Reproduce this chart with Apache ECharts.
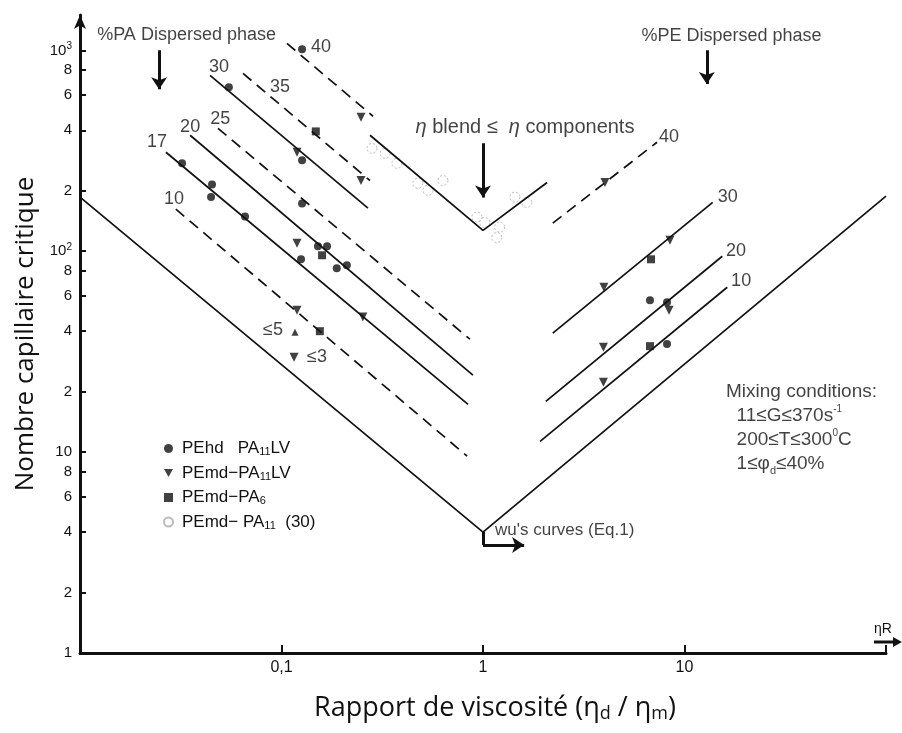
<!DOCTYPE html>
<html>
<head>
<meta charset="utf-8">
<script src="https://cdn.jsdelivr.net/npm/echarts@6/dist/echarts.min.js"></script>
<style>
html, body { margin: 0; padding: 0; background: #fff; }
#chart { width: 902px; height: 733px; }
</style>
</head>
<body>
<div id="chart"></div>
<script>
// Wu's master curve and the "blend viscosity" V
const wuCurve = [[0.01, 186], [1, 4], [100, 188]];
const blendCurve = [[0.275, 378], [1, 127], [2.08, 220]];

// straight iso-composition lines, [[x0, y0], [x1, y1]]
const solidLines = [
  [[0.0442, 751], [0.2685, 164]],   // PA 30
  [[0.0352, 378], [0.891, 24.2]],   // PA 20
  [[0.0267, 311], [0.843, 17.3]],   // PA 17
  [[2.22, 39.1], [13.8, 175]],      // PE 30
  [[2.05, 17.9], [15.4, 94.4]],     // PE 20
  [[1.92, 11.3], [16.3, 66.2]]      // PE 10
];
const dashedLines = [
  [[0.1064, 1083], [0.2845, 470]],  // PA 40
  [[0.0644, 768], [0.2748, 225]],   // PA 35
  [[0.0484, 409], [0.861, 36.5]],   // PA 25
  [[0.0299, 162], [0.834, 9.55]],   // PA 10
  [[2.22, 138], [7.31, 349]]        // PE 40
];

// measured points
const pehdPA11LV = [[0.1265, 1012], [0.0548, 655], [0.1265, 284], [0.0321, 274], [0.0452, 215],
  [0.0447, 186], [0.0659, 149], [0.1265, 173], [0.1517, 106], [0.1683, 106], [0.125, 91.2],
  [0.188, 82.3], [0.211, 85.2], [6.74, 57.0], [8.19, 55.8], [8.19, 34.5]];
const pemdPA11LV = [[0.248, 464], [0.1194, 311], [0.248, 225], [0.1194, 109.6], [0.1194, 50.9],
  [0.2535, 47], [0.1154, 29.7], [4.03, 220], [3.98, 66.2], [8.47, 113.5], [3.96, 33.3],
  [8.38, 50.9], [3.96, 22.3]];
const pemdPA11LVup = [[0.1167, 39.5]];
const pemdPA6 = [[0.148, 395], [0.159, 95.5], [0.155, 40.0], [6.82, 91.2], [6.74, 33.7]];
const pemdPA11 = [[0.281, 325], [0.327, 307], [0.374, 274], [0.475, 218], [0.533, 201], [0.633, 225],
  [0.933, 148], [1.02, 139], [1.21, 132], [1.17, 117], [1.44, 186], [1.65, 175]];

// composition tags on the lines
const tagText = ['40', '35', '30', '25', '20', '17', '10', '≤5', '≤3', '40', '30', '20', '10'];
const tagX = [0.157, 0.0984, 0.049, 0.0496, 0.0352, 0.0241, 0.0293, 0.0908, 0.150, 8.38, 16.4, 18.0, 19.1];
const tagY = [1035, 655, 823, 454, 414, 349, 181, 40.5, 29.7, 369, 186, 100, 71];

// axis ticks
const yTicks = [1, 2, 4, 6, 8, 10, 20, 40, 60, 80, 100, 200, 400, 600, 800, 1000];
const xTicks = [0.1, 1, 10, 100];
const xLabels = [0.1, 1, 10];

// arrows drawn in data space
const arrows = [
  [[0.0247, 1000], [0.0247, 640]],
  [[12.9, 1000], [12.9, 680]],
  [[1, 345], [1, 185]],
  [[1, 3.45], [1.6, 3.45]]
];
const stubs = [
  [[1, 4], [1, 3.45]]
];

const FONT = 'Liberation Sans';
const TITLE_FONT = 'Open Sans';
const INK = '#111';

const rich = {
  i: { fontFamily: FONT, fontStyle: 'italic', fontSize: 20, color: INK },
  s: { fontFamily: FONT, fontSize: 11, color: INK, verticalAlign: 'bottom', padding: [7, 0, 0, 0] },
  sup: { fontFamily: FONT, fontSize: 10, color: INK, verticalAlign: 'top', padding: [0, 0, 6, 0] }
};

const notes = [
  { value: [0.0338, 1188], name: '%PA Dispersed phase', label: { fontSize: 18 } },
  { value: [17.1, 1174], name: '%PE Dispersed phase', label: { fontSize: 18 } },
  { value: [1.616, 414], name: '{i|η} blend ≤  {i|η} components', label: { fontSize: 20 } },
  { value: [1.147, 4.09], name: "wu's curves (Eq.1)", label: { fontSize: 17, align: 'left' } },
  { value: [16.07, 22.8],
    name: 'Mixing conditions:\n  11≤G≤370s{sup|-1}\n  200≤T≤300{sup|0}C\n  1≤φ{s|d}≤40%',
    label: { fontSize: 19, align: 'left', verticalAlign: 'top', lineHeight: 24 } }
];

const legendNames = {
  'PEhd  PA11LV': 'PEhd   PA{s|11}LV',
  'PEmd-PA11LV': 'PEmd−PA{s|11}LV',
  'PEmd-PA6': 'PEmd−PA{s|6}',
  'PEmd-PA11 (30)': 'PEmd− PA{s|11}  (30)'
};

function guide(pts, dashed) {
  return {
    type: 'line', data: pts, symbol: 'none', silent: true, z: 2,
    lineStyle: { color: INK, width: 1.7, type: dashed ? [11, 7] : 'solid' }
  };
}

function segs(list, head) {
  return {
    type: 'lines', coordinateSystem: 'cartesian2d', silent: true,
    data: list.map(a => ({ coords: a })),
    symbol: ['none', head ? 'arrow' : 'none'], symbolSize: [8, 12],
    lineStyle: { color: INK, width: 3, opacity: 1, curveness: 0 }, z: 5
  };
}

const series = [];
series.push(guide(wuCurve, false));
series.push(guide(blendCurve, false));
solidLines.forEach(l => series.push(guide(l, false)));
dashedLines.forEach(l => series.push(guide(l, true)));

series.push({
  name: 'PEhd  PA11LV', type: 'scatter', data: pehdPA11LV, symbol: 'circle', symbolSize: 8,
  itemStyle: { color: INK }, z: 4
});
series.push({
  name: 'PEmd-PA11LV', type: 'scatter', symbol: 'triangle', symbolRotate: 180, symbolSize: 9,
  data: pemdPA11LV.concat(pemdPA11LVup.map(p => ({ value: p, symbolRotate: 0, symbolSize: 7 }))),
  itemStyle: { color: INK }, z: 4
});
series.push({
  name: 'PEmd-PA6', type: 'scatter', data: pemdPA6, symbol: 'rect', symbolSize: 8,
  itemStyle: { color: INK }, z: 4
});
series.push({
  name: 'PEmd-PA11 (30)', type: 'scatter', data: pemdPA11, symbol: 'circle', symbolSize: 10,
  itemStyle: { color: 'rgba(0,0,0,0)', borderColor: '#aaa', borderWidth: 1, borderType: [2, 2] }, z: 1
});

series.push({
  type: 'scatter', silent: true, symbolSize: 0.1, itemStyle: { color: 'rgba(0,0,0,0)' },
  data: tagText.map((t, i) => ({ value: [tagX[i], tagY[i]], name: t })),
  label: {
    show: true, position: 'inside', formatter: p => p.name, color: INK,
    fontFamily: FONT, fontSize: 18, align: 'center', verticalAlign: 'middle'
  }, z: 5
});

series.push({
  type: 'scatter', silent: true, symbolSize: 0.1, itemStyle: { color: 'rgba(0,0,0,0)' },
  data: notes,
  label: {
    show: true, position: 'inside', formatter: p => p.name, color: INK,
    fontFamily: FONT, align: 'center', verticalAlign: 'middle', rich: rich
  }, z: 5
});

series.push(segs(arrows, true));
series.push(segs(stubs, false));

const chart = echarts.init(document.getElementById('chart'));
chart.setOption({
  animation: false,
  backgroundColor: '#fff',
  grid: { left: 80, right: 16, top: 15, bottom: 80, containLabel: false, outerBoundsMode: 'none' },
  legend: {
    orient: 'vertical', left: 158, top: 435, itemWidth: 9, itemHeight: 9, itemGap: 7,
    data: [
      { name: 'PEhd  PA11LV', icon: 'circle' },
      { name: 'PEmd-PA11LV', icon: 'path://M0,0L10,0L5,9Z' },
      { name: 'PEmd-PA6', icon: 'rect' },
      { name: 'PEmd-PA11 (30)', icon: 'circle' }
    ],
    formatter: n => legendNames[n],
    textStyle: { fontFamily: FONT, fontSize: 17, color: INK, padding: [0, 0, 0, 4], rich: rich }
  },
  xAxis: {
    type: 'log', logBase: 10, min: 0.01, max: 100,
    axisLine: { onZero: false, lineStyle: { color: INK, width: 3 } },
    axisTick: { inside: true, length: 8, customValues: xTicks, lineStyle: { color: INK, width: 2 } },
    axisLabel: {
      customValues: xLabels, color: INK, fontFamily: FONT, fontSize: 16, margin: 7,
      formatter: v => (v < 0.5 ? '0,1' : String(Math.round(v)))
    },
    splitLine: { show: false },
    name: 'Rapport de viscosité (η{d|d} / η{d|m})',
    nameLocation: 'middle', nameGap: 41,
    nameTextStyle: {
      fontFamily: TITLE_FONT, fontSize: 27, color: INK, padding: [0, 0, 0, 24],
      rich: {
        d: { fontFamily: TITLE_FONT, fontSize: 18, color: INK, verticalAlign: 'bottom', padding: [11, 0, 0, 0] }
      }
    }
  },
  yAxis: {
    type: 'log', logBase: 10, min: 1, max: 1500,
    axisLine: { show: true, lineStyle: { color: INK, width: 3 }, symbol: ['none', 'arrow'], symbolSize: [9, 14] },
    axisTick: { inside: true, length: 6, customValues: yTicks, lineStyle: { color: INK, width: 2 } },
    axisLabel: {
      customValues: yTicks, color: INK, fontFamily: FONT, fontSize: 15, margin: 8,
      formatter: v => {
        if (v > 999) return '{b|10}{sup|3}';
        if (v > 99 && v < 101) return '{b|10}{sup|2}';
        if (v > 9 && v < 11) return '10';
        const p = Math.pow(10, Math.floor(Math.log10(v) + 1e-9));
        return String(Math.round(v / p));
      },
      rich: {
        b: { fontFamily: FONT, fontSize: 15, color: INK },
        sup: { fontFamily: FONT, fontSize: 10, color: INK, verticalAlign: 'top', padding: [0, 0, 8, 0] }
      }
    },
    splitLine: { show: false },
    name: 'Nombre capillaire critique',
    nameLocation: 'middle', nameRotate: 90, nameGap: 40,
    nameTextStyle: { fontFamily: TITLE_FONT, fontSize: 26, color: INK }
  },
  graphic: [
    { type: 'line', shape: { x1: 874, y1: 642, x2: 895, y2: 642 }, style: { stroke: INK, lineWidth: 3 } },
    { type: 'polygon', shape: { points: [[893, 637], [902, 642], [893, 647]] }, style: { fill: INK } },
    { type: 'text', x: 874, y: 622, style: { text: 'ηR', font: '14px "Liberation Sans"', fill: INK } }
  ],
  series: series
});
</script>
</body>
</html>
